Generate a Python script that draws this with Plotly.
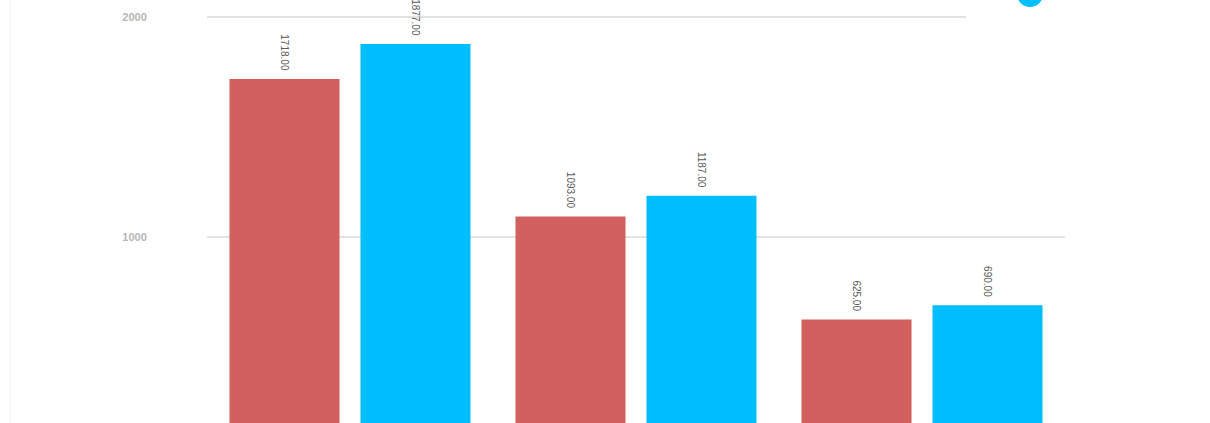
import plotly.graph_objects as go

categories = ["A", "B", "C"]
series_a_values = [1718, 1093, 625]
series_b_values = [1877, 1187, 690]
tick_values = [1000, 2000]
tick_labels = ["1000", "2000"]

red = "#D2605E"
blue = "#00BFFF"

fig = go.Figure()
for vals, col, name in [(series_a_values, red, "A"), (series_b_values, blue, "B")]:
    fig.add_trace(go.Bar(
        x=categories, y=vals, name=name, marker=dict(color=col, line=dict(width=0)),
        text=[f"{v:.2f}\u00a0\u00a0" for v in vals], textposition="outside", textangle=90,
        textfont=dict(family="Liberation Sans, Arial", size=10, color="#5a5a5a"),
        cliponaxis=False, showlegend=False,
    ))

W, H = 1210, 423
L, R = 207, 1065
pw = R - L

def px_x(x):
    return (x - L) / pw

def px_y(y):
    return (H - y) / H

fig.update_layout(
    width=W, height=H,
    margin=dict(l=L, r=W - R, t=0, b=0, pad=0),
    paper_bgcolor="white", plot_bgcolor="white",
    barmode="group", bargap=0.084, bargroupgap=0.16,
    xaxis=dict(showticklabels=False, showgrid=False, zeroline=False, showline=False, ticks=""),
    yaxis=dict(range=[155, 2077], tickvals=tick_values, ticktext=tick_labels,
               showgrid=True, gridcolor="#e2e2e2", gridwidth=1.5, zeroline=False,
               showline=False, ticks="outside", ticklen=57, tickcolor="rgba(0,0,0,0)",
               tickfont=dict(family="Liberation Sans, Arial", size=11, color="#b5b5b5", weight="bold")),
    shapes=[
        dict(type="rect", xref="paper", yref="paper", x0=px_x(966), x1=px_x(1210),
             y0=px_y(30), y1=px_y(-40), fillcolor="white", line=dict(width=0), layer="above"),
        dict(type="circle", xref="paper", yref="paper", x0=px_x(1017), x1=px_x(1043),
             y0=px_y(7), y1=px_y(-19), fillcolor=blue, line=dict(width=0), layer="above"),
        dict(type="line", xref="paper", yref="paper", x0=px_x(10), x1=px_x(10),
             y0=0, y1=1, line=dict(color="#f0f0f0", width=1), layer="above"),
    ],
)

fig.write_html("out.html", config={"displayModeBar": False},
               post_script="document.body.style.margin='0';document.body.style.overflow='hidden';")
